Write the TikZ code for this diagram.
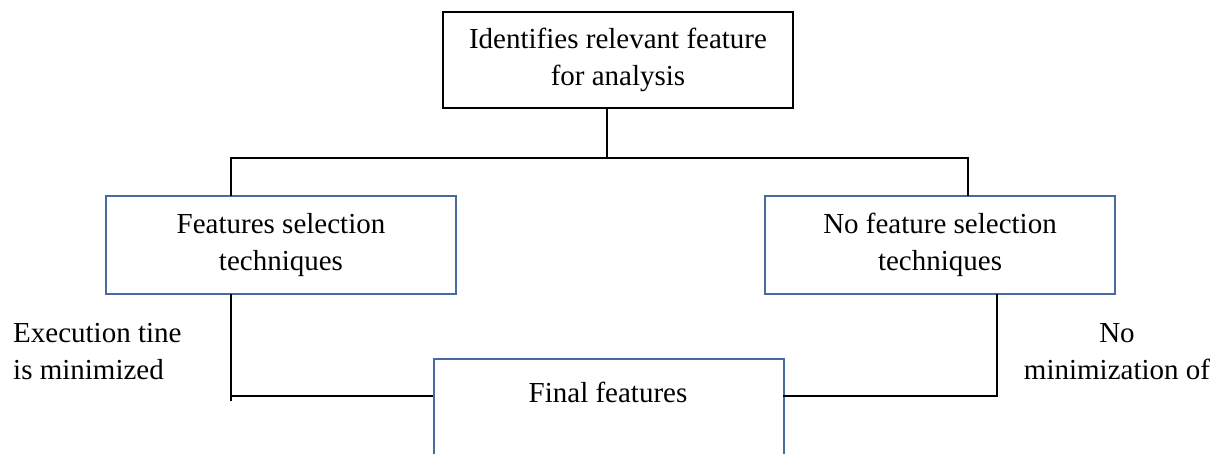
\documentclass[tikz,border=0pt]{standalone}
\usepackage{fontspec}
\setmainfont{Liberation Serif}
\definecolor{boxblue}{RGB}{72,106,160}
\begin{document}
\begin{tikzpicture}[x=1pt,y=-1pt,
  txt/.style={font=\fontsize{29}{37}\selectfont},
  boxbase/.style={txt, draw, rectangle, line width=1.8pt, inner sep=0pt, align=center},
  blackbox/.style={boxbase, draw=black},
  bluebox/.style={boxbase, draw=boxblue},
  wire/.style={line width=2pt, draw=black},
  note/.style={txt, inner sep=0pt}]
\useasboundingbox (0,0) rectangle (1218,453);
\clip (0,0) rectangle (1218,453);

% boxes
\node (top) [blackbox, minimum width=350pt, minimum height=96pt] at (618,60)
  {Identifies relevant feature\\for analysis};
\node (fs) [bluebox, minimum width=350pt, minimum height=98pt] at (281,245)
  {Features selection\\techniques};
\node (nfs) [bluebox, minimum width=350pt, minimum height=98pt] at (940,245)
  {No feature selection\\techniques};
\node (final) [bluebox, minimum width=350pt, minimum height=140pt, anchor=north west] at (433,358) {};
\node (finaltxt) [note, anchor=base] at (608,402) {Final features};

% side remarks (base anchor sits on the last line)
\node (exec) [note, align=left, anchor=base west] at (13,379) {Execution tine\\is minimized};
\node (nomin) [note, align=center, anchor=base] at (1117,379) {No\\minimization of};

% junction points
\coordinate (split) at (607,158);
\coordinate (fsin) at (231,196);
\coordinate (fsout) at (231,294);
\coordinate (nfsin) at (968,196);
\coordinate (nfsout) at (997,294);
\coordinate (finl) at (433,396);
\coordinate (finr) at (783,396);

% connectors
\draw[wire] (top.south -| split) -- (split);
\draw[wire] (fsin) |- (split) -| (nfsin);
\draw[wire] (fsout) -- ++(0,107);
\draw[wire] (fsout |- finl) -- (finl);
\draw[wire] (nfsout) |- (finr);
\end{tikzpicture}
\end{document}
